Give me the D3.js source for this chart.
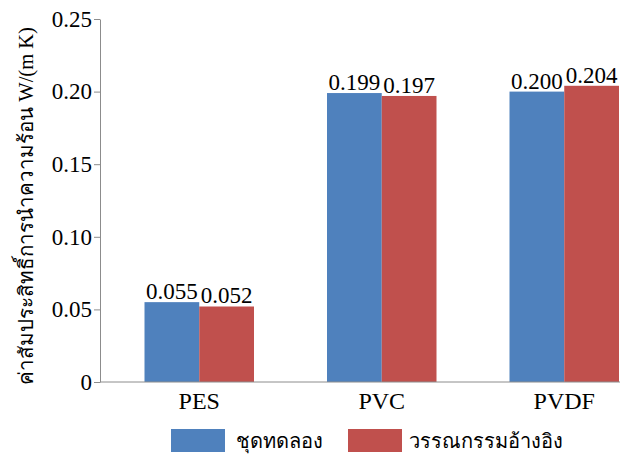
<!DOCTYPE html>
<html><head><meta charset="utf-8">
<script src="https://cdn.jsdelivr.net/npm/d3@7"></script>
<style>
body{margin:0;background:#fff;}
text{font-family:"Liberation Serif","Times New Roman",serif;}
</style></head>
<body><svg id="c" width="620" height="458"></svg>
<script>
// Thermal conductivity of membrane materials: measured vs. literature
const categories = ["PES", "PVC", "PVDF"];
const seriesNames = ["ชุดทดลอง", "วรรณกรรมอ้างอิง"];
const measured = [0.055, 0.199, 0.200];
const literature = [0.052, 0.197, 0.204];
const yTicks = [0, 0.05, 0.10, 0.15, 0.20, 0.25];
const colors = ["#4F81BD", "#C0504D"];

const svg = d3.select("#c");
const y = d3.scaleLinear().domain([0, 0.25]).range([382, 19]);
const x0 = d3.scaleBand().domain(categories).range([108, 108 + 3 * 182.5])
  .paddingInner(0.4).paddingOuter(0.2);
const x1 = d3.scaleBand().domain([0, 1]).range([0, x0.bandwidth()]);

const rows = categories.map((c, i) => ({cat: c, vals: [measured[i], literature[i]]}));

// bars with value labels
const g = svg.append("g");
rows.forEach(r => {
  r.vals.forEach((v, k) => {
    g.append("rect")
      .attr("x", x0(r.cat) + x1(k)).attr("y", y(v))
      .attr("width", x1.bandwidth()).attr("height", y(0) - y(v))
      .attr("fill", colors[k]);
  });
});
rows.forEach(r => {
  r.vals.forEach((v, k) => {
    g.append("text")
      .attr("x", x0(r.cat) + x1(k) + x1.bandwidth() / 2).attr("y", y(v) - 3)
      .attr("text-anchor", "middle").attr("font-size", 23).attr("fill", "#000")
      .text(v.toFixed(3));
  });
});

// y axis
const yAxis = d3.axisLeft(y).tickValues(yTicks)
  .tickFormat(d => d === 0 ? "0" : d.toFixed(2)).tickSize(6).tickPadding(2).tickSizeOuter(0);
const ya = svg.append("g").attr("transform", "translate(100,0)").call(yAxis);
ya.attr("font-family", null);
ya.select(".domain").attr("stroke", "#8c8c8c");
ya.selectAll(".tick line").attr("stroke", "#8c8c8c");
ya.selectAll(".tick text").attr("font-size", 23).attr("fill", "#000");

// x axis baseline and category labels
svg.append("line").attr("x1", 100).attr("x2", 620).attr("y1", y(0)).attr("y2", y(0))
  .attr("stroke", "#8c8c8c");
categories.forEach(c => {
  svg.append("text").attr("x", x0(c) + x0.bandwidth() / 2).attr("y", 409)
    .attr("text-anchor", "middle").attr("font-size", 24).text(c);
});

// y title
svg.append("text")
  .attr("transform", "translate(33,206) rotate(-90)")
  .attr("text-anchor", "middle").attr("font-size", 20.5)
  .text("ค่าสัมประสิทธิ์การนำความร้อน  W/(m K)");

// legend
const legend = [{x: 171, t: 236}, {x: 348, t: 409}];
seriesNames.forEach((n, k) => {
  svg.append("rect").attr("x", legend[k].x).attr("y", 429).attr("width", 54).attr("height", 23)
    .attr("fill", colors[k]);
  svg.append("text").attr("x", legend[k].t).attr("y", 448).attr("font-size", 20).text(n);
});
</script></body></html>
